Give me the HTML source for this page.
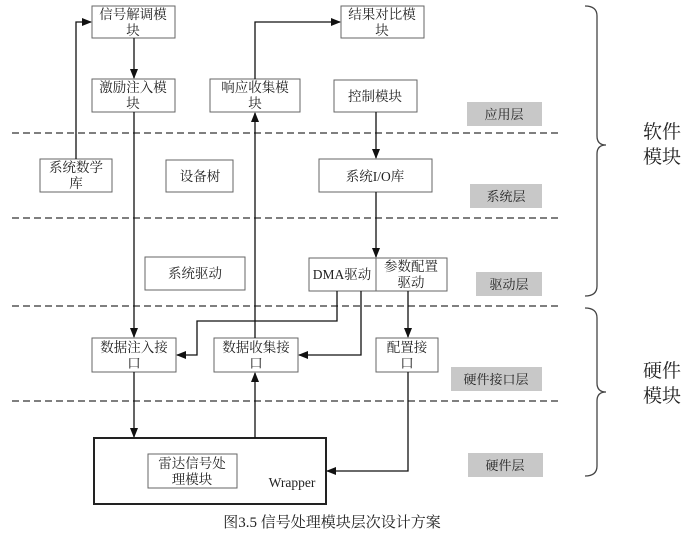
<!DOCTYPE html>
<html><head><meta charset="utf-8"><style>
html,body{margin:0;padding:0;background:#fff}
svg{display:block}
text{font-family:"Liberation Serif","Noto Serif CJK SC","Noto Sans CJK SC",serif;fill:#222}
</style></head><body>
<svg width="692" height="544" viewBox="0 0 692 544" xmlns="http://www.w3.org/2000/svg">
<defs><marker id="a" markerWidth="10" markerHeight="10" refX="9" refY="5" orient="auto" markerUnits="userSpaceOnUse"><path d="M0,1 L10,5 L0,9 z" fill="#111"/></marker></defs>
<g stroke="#333" stroke-width="1.3" stroke-dasharray="7,4" fill="none">
<line x1="12" y1="133" x2="560" y2="133"/><line x1="12" y1="218" x2="560" y2="218"/>
<line x1="12" y1="306" x2="560" y2="306"/><line x1="12" y1="401" x2="560" y2="401"/>
</g>
<g fill="#fff" stroke="#666" stroke-width="1">
<rect x="92" y="6" width="83" height="32"/><rect x="341" y="6" width="83" height="32"/>
<rect x="92" y="79" width="83" height="33"/><rect x="210" y="79" width="90" height="33"/>
<rect x="334" y="80" width="83" height="32"/>
<rect x="40" y="159" width="72" height="33"/><rect x="166" y="160" width="67" height="32"/>
<rect x="319" y="159" width="113" height="33"/>
<rect x="145" y="257" width="100" height="33"/>
<rect x="309" y="258" width="67" height="33"/><rect x="376" y="258" width="71" height="33"/>
<rect x="92" y="338" width="84" height="34"/><rect x="214" y="338" width="84" height="34"/>
<rect x="376" y="338" width="62" height="34"/>
<rect x="148" y="454" width="89" height="34"/>
</g>
<rect x="94" y="438" width="232" height="66" fill="none" stroke="#222" stroke-width="2"/>
<g fill="#c8c8c8">
<rect x="467" y="102" width="75" height="24"/><rect x="470" y="184" width="72" height="24"/>
<rect x="476" y="272" width="66" height="24"/><rect x="451" y="367" width="91" height="24"/>
<rect x="468" y="453" width="75" height="24"/>
</g>
<g stroke="#111" stroke-width="1.3" fill="none" marker-end="url(#a)">
<polyline points="76,159 76,22 91,22"/>
<line x1="134" y1="38" x2="134" y2="78"/>
<line x1="134" y1="112" x2="134" y2="337"/>
<line x1="255" y1="338" x2="255" y2="113"/>
<polyline points="255,79 255,22 340,22"/>
<line x1="376" y1="112" x2="376" y2="158"/>
<line x1="376" y1="192" x2="376" y2="257"/>
<polyline points="337,291 337,321 197,321 197,355 177,355"/>
<polyline points="361,291 361,355 299,355"/>
<line x1="408" y1="291" x2="408" y2="337"/>
<line x1="134" y1="372" x2="134" y2="437"/>
<line x1="255" y1="438" x2="255" y2="373"/>
<polyline points="408,372 408,471 327,471"/>
</g>
<g stroke="#444" stroke-width="1.3" fill="none">
<path d="M585,6 Q597,6 597,16 L597,136 Q597,145 606,145 Q597,145 597,154 L597,286 Q597,296 585,296"/>
<path d="M585,308 Q597,308 597,318 L597,383 Q597,392 606,392 Q597,392 597,401 L597,466 Q597,476 585,476"/>
</g>
<g font-size="13.5" text-anchor="middle">
<text x="133" y="19">信号解调模</text><text x="133" y="35">块</text>
<text x="382" y="19">结果对比模</text><text x="382" y="35">块</text>
<text x="133" y="92">激励注入模</text><text x="133" y="108">块</text>
<text x="255" y="92">响应收集模</text><text x="255" y="108">块</text>
<text x="375" y="101">控制模块</text>
<text x="76" y="172">系统数学</text><text x="76" y="188">库</text>
<text x="200" y="181">设备树</text>
<text x="375" y="181">系统I/O库</text>
<text x="195" y="278">系统驱动</text>
<text x="342" y="279">DMA驱动</text>
<text x="411" y="271">参数配置</text><text x="411" y="287">驱动</text>
<text x="134" y="352">数据注入接</text><text x="134" y="368">口</text>
<text x="256" y="352">数据收集接</text><text x="256" y="368">口</text>
<text x="407" y="352">配置接</text><text x="407" y="368">口</text>
<text x="192" y="468">雷达信号处</text><text x="192" y="484">理模块</text>
<text x="292" y="487">Wrapper</text>
</g>
<g font-size="13" text-anchor="middle">
<text x="504" y="119">应用层</text><text x="506" y="201">系统层</text>
<text x="509" y="289">驱动层</text><text x="496" y="384">硬件接口层</text>
<text x="505" y="470">硬件层</text>
</g>
<text x="332" y="527" font-size="15" text-anchor="middle">图3.5  信号处理模块层次设计方案</text>
<g font-size="19" text-anchor="middle">
<text x="662" y="138">软件</text><text x="662" y="163">模块</text>
<text x="662" y="377">硬件</text><text x="662" y="402">模块</text>
</g>
</svg>
</body></html>
